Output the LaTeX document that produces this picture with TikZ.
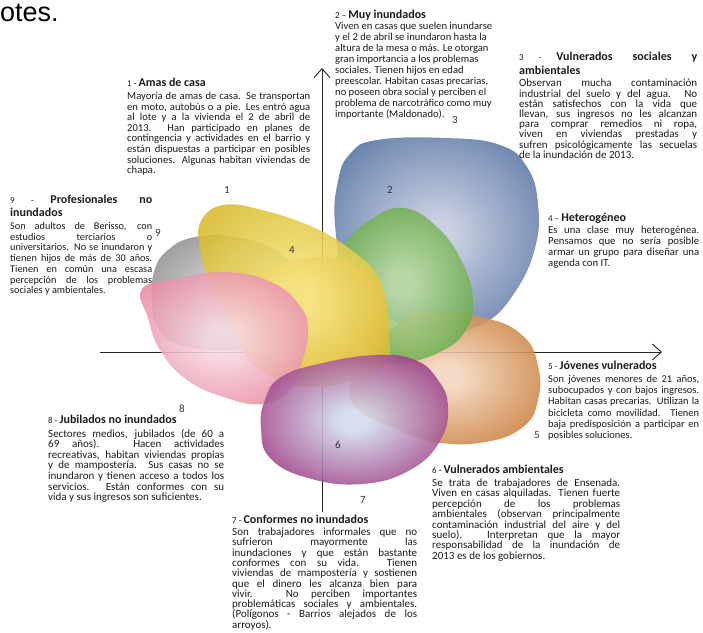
\documentclass[tikz,border=0pt]{standalone}
\usepackage{fontspec}
\setmainfont{Carlito}
\newfontfamily\arialf{Liberation Sans}
\usetikzlibrary{arrows.meta}
\definecolor{bl}{HTML}{5573A2}\definecolor{bllt}{HTML}{C4CADF}
\definecolor{gr}{HTML}{5FA640}\definecolor{grlt}{HTML}{BCDCA2}
\definecolor{orc}{HTML}{C97A34}\definecolor{orlt}{HTML}{F3D6BC}
\definecolor{pu}{HTML}{9A337F}\definecolor{pult}{HTML}{D2DAEC}
\definecolor{ye}{HTML}{D9BB2E}\definecolor{yelt}{HTML}{F6E67C}
\definecolor{gy}{HTML}{8C8C8C}\definecolor{gylt}{HTML}{CFCFCF}
\definecolor{pk}{HTML}{E8899F}\definecolor{pklt}{HTML}{F8DCE6}
\definecolor{pe}{HTML}{F2A04E}\definecolor{pelt}{HTML}{FCE2C6}
\definecolor{txt}{HTML}{1C1C1C}
\colorlet{bin}{white}\colorlet{bout}{black}
\pgfdeclareradialshading[bin,bout]{blobsh}{\pgfpoint{0bp}{0bp}}{color(0bp)=(bin); color(4bp)=(bin); color(30bp)=(bout); color(50bp)=(bout)}
\newcommand\hd[2]{\hbox{{\fontsize{9}{9}\selectfont #1 }{\fontsize{12}{12}\selectfont\bfseries #2}}}
\newcommand\hdj[2]{\hbox to\hsize{{\fontsize{9}{9}\selectfont #1 }{\fontsize{12}{12}\selectfont\bfseries #2}}}
\newcommand\hdb[1]{\hbox{\fontsize{12}{12}\selectfont\bfseries #1}}
\newcommand\J[1]{\hbox to\hsize{#1}}
\newcommand\N[1]{\hbox{#1}}
\newdimen\maxw
\newcommand\meas[1]{\setbox0\hbox{\fontsize{10}{10}\selectfont #1}\ifdim\wd0>\maxw \global\maxw=\wd0\fi}
\newcommand\lxj{}\newcommand\lxl{}
% #1 width, #2 target fraction, #3 baselineskip, #4 extra gap after header, #5 header, #6 lines
\newcommand\fitblock[6]{\global\maxw=0pt\setbox2\hbox{\let\lxj\meas\let\lxl\meas #6}%
  \pgfmathsetmacro\fs{min(11,10*#1*#2/\the\maxw)}%
  \vtop{\hsize=#1pt\fontsize{\fs}{#3}\selectfont #5\vskip#4pt\let\lxj\J\let\lxl\N #6}}
\begin{document}
\begin{tikzpicture}[x=1pt,y=-1pt,
  blob/.style 2 args={shading=blobsh, fill opacity=0.88, /utils/exec={\colorlet{bin}{#1}\colorlet{bout}{#2}}},
  axis/.style={draw=black!85, line width=0.9pt, -{Straight Barb[length=9pt,width=16pt]}},
  blk/.style={anchor=base west, inner sep=0pt, text=txt},
  num/.style={font=\fontsize{11}{11}\selectfont, text=black!80, inner sep=0pt}]
\useasboundingbox (0,0) rectangle (703,632);
\fill[white] (0,0) rectangle (703,632);
\node[anchor=base west, inner sep=0pt, font=\arialf\fontsize{27}{27}\selectfont] (lotes) at (0,21) {otes.};
% axes
\coordinate (vb) at (322,512); \coordinate (vt) at (322,68);
\coordinate (hl) at (100,352); \coordinate (hr) at (662,352);
\draw[axis] (vb) -- (vt);
\draw[axis] (hl) -- (hr);
% blobs
\shade[blob={bllt}{bl}] plot[smooth cycle, tension=0.75] coordinates {(335,225) (338,181) (350,154) (377,140) (446,138) (500,145) (527,167) (538,204) (535,248) (515,292) (485,323) (446,333) (408,326) (369,306) (346,280)};
\shade[blob={orlt}{orc}] plot[smooth cycle, tension=0.75] coordinates {(423,312) (485,318) (523,336) (538,366) (538,400) (523,427) (485,442) (435,442) (392,427) (358,410) (350,387) (362,362) (385,335)};
\shade[blob={grlt}{gr}] plot[smooth cycle, tension=0.75] coordinates {(404,208) (438,228) (462,262) (473,299) (466,330) (440,352) (400,364) (385,360) (360,340) (337,310) (331,282) (342,248) (370,220)};
\shade[blob={gylt}{gy}] plot[smooth cycle, tension=0.75] coordinates {(152,305) (154,272) (168,250) (195,237) (235,237) (275,250) (300,275) (305,305) (285,335) (235,350) (180,345) (158,328)};
\shade[blob={pelt}{pe}] plot[smooth cycle, tension=0.75] coordinates {(235,299) (254,275) (285,262) (331,258) (369,275) (385,306) (381,346) (362,373) (315,387) (265,373) (238,340)};
\shade[blob={yelt}{ye}] plot[smooth cycle, tension=0.7] coordinates {(201,221) (223,205) (262,210) (315,228) (354,252) (377,275) (387,306) (389,339) (387,361) (360,378) (315,387) (281,380) (252,355) (230,320) (210,283) (200,248)};
\shade[blob={pklt}{pk}] plot[smooth cycle, tension=0.75] coordinates {(142,289) (177,279) (227,272) (273,283) (300,306) (308,330) (302,362) (288,392) (262,404) (227,398) (187,380) (160,350) (148,318)};
\shade[blob={pult}{pu}] plot[smooth cycle, tension=0.75] coordinates {(265,400) (281,377) (323,363) (377,355) (415,360) (438,380) (448,407) (440,441) (410,470) (362,484) (308,478) (270,458) (261,428)};
% numbers
\node[num] (n1) at (227,190) {1};
\node[num] (n2) at (390,190) {2};
\node[num] (n3) at (455,120) {3};
\node[num] (n4) at (292,250) {4};
\node[num] (n5) at (537,435) {5};
\node[num] (n6) at (338,445) {6};
\node[num] (n7) at (363,500) {7};
\node[num] (n8) at (182,409) {8};
\node[num] (n9) at (158,233) {9};
% text blocks
\node[blk] (b1) at (127,86.5) {\fitblock{183}{0.97}{10.6}{2.4}{\hd{1 -}{Amas de casa}}{%
\lxj{Mayoría de amas de casa. Se transportan}
\lxj{en moto, autobús o a pie. Les entró agua}
\lxj{al lote y a la vivienda el 2 de abril de}
\lxj{2013. Han participado en planes de}
\lxj{contingencia y actividades en el barrio y}
\lxj{están dispuestas a participar en posibles}
\lxj{soluciones. Algunas habitan viviendas de}
\lxl{chapa.}}};
\node[blk] (b2) at (335,18.5) {\fitblock{157}{1}{11}{0}{\hd{2 –}{Muy inundados}}{%
\lxl{Viven en casas que suelen inundarse}
\lxl{y el 2 de abril se inundaron hasta la}
\lxl{altura de la mesa o más. Le otorgan}
\lxl{gran importancia a los problemas}
\lxl{sociales. Tienen hijos en edad}
\lxl{preescolar. Habitan casas precarias,}
\lxl{no poseen obra social y perciben el}
\lxl{problema de narcotráfico como muy}
\lxl{importante (Maldonado).}}};
\node[blk] (b3) at (519,60.5) {\fitblock{178}{0.97}{10.2}{1.8}{\hdj{3 -}{Vulnerados sociales y}\vskip3pt\hdb{ambientales}}{%
\lxj{Observan mucha contaminación}
\lxj{industrial del suelo y del agua. No}
\lxj{están satisfechos con la vida que}
\lxj{llevan, sus ingresos no les alcanzan}
\lxj{para comprar remedios ni ropa,}
\lxj{viven en viviendas prestadas y}
\lxj{sufren psicológicamente las secuelas}
\lxl{de la inundación de 2013.}}};
\node[blk] (b4) at (548,221.5) {\fitblock{151}{0.95}{11}{1}{\hd{4 –}{Heterogéneo}}{%
\lxj{Es una clase muy heterogénea.}
\lxj{Pensamos que no sería posible}
\lxj{armar un grupo para diseñar una}
\lxl{agenda con IT.}}};
\node[blk] (b5) at (548,369.5) {\fitblock{151}{0.97}{11.2}{1.8}{\hd{5 -}{Jóvenes vulnerados}}{%
\lxj{Son jóvenes menores de 21 años,}
\lxj{subocupados y con bajos ingresos.}
\lxj{Habitan casas precarias. Utilizan la}
\lxj{bicicleta como movilidad. Tienen}
\lxj{baja predisposición a participar en}
\lxl{posibles soluciones.}}};
\node[blk] (b6) at (432,473.5) {\fitblock{188}{0.97}{10.4}{2.6}{\hd{6 -}{Vulnerados ambientales}}{%
\lxj{Se trata de trabajadores de Ensenada.}
\lxj{Viven en casas alquiladas. Tienen fuerte}
\lxj{percepción de los problemas}
\lxj{ambientales (observan principalmente}
\lxj{contaminación industrial del aire y del}
\lxj{suelo). Interpretan que la mayor}
\lxj{responsabilidad de la inundación de}
\lxl{2013 es de los gobiernos.}}};
\node[blk] (b7) at (232,523.5) {\fitblock{185}{0.97}{10.3}{1.7}{\hd{7 -}{Conformes no inundados}}{%
\lxj{Son trabajadores informales que no}
\lxj{sufrieron mayormente las}
\lxj{inundaciones y que están bastante}
\lxj{conformes con su vida. Tienen}
\lxj{viviendas de mampostería y sostienen}
\lxj{que el dinero les alcanza bien para}
\lxj{vivir. No perciben importantes}
\lxj{problemáticas sociales y ambientales.}
\lxj{(Polígonos - Barrios alejados de los}
\lxl{arroyos).}}};
\node[blk] (b8) at (48,423.5) {\fitblock{176}{0.97}{10.6}{3}{\hd{8 -}{Jubilados no inundados}}{%
\lxj{Sectores medios, jubilados (de 60 a}
\lxj{69 años). Hacen actividades}
\lxj{recreativas, habitan viviendas propias}
\lxj{y de mampostería. Sus casas no se}
\lxj{inundaron y tienen acceso a todos los}
\lxj{servicios. Están conformes con su}
\lxl{vida y sus ingresos son suficientes.}}};
\node[blk] (b9) at (10,203.5) {\fitblock{142}{0.97}{10.7}{2.3}{\hdj{9 -}{Profesionales no}\vskip2.3pt\hdb{inundados}}{%
\lxj{Son adultos de Berisso, con}
\lxj{estudios terciarios o}
\lxj{universitarios. No se inundaron y}
\lxj{tienen hijos de más de 30 años.}
\lxj{Tienen en común una escasa}
\lxj{percepción de los problemas}
\lxl{sociales y ambientales.}}};
\end{tikzpicture}
\end{document}
